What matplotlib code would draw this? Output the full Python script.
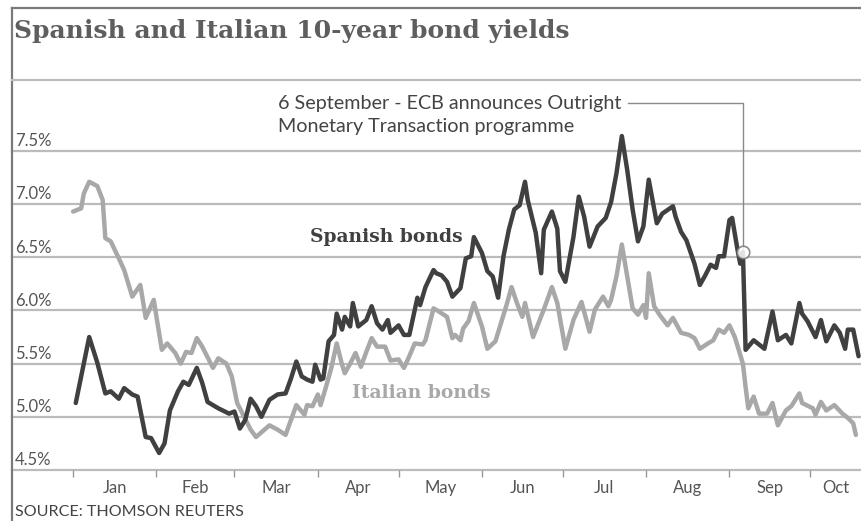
# Spanish and Italian 10-year bond yields through 2012, with the
# ECB Outright Monetary Transaction announcement marked on 6 September

import matplotlib
matplotlib.use("Agg")
import matplotlib.pyplot as plt
import matplotlib.transforms as mtransforms
from matplotlib.lines import Line2D


# data
# ---

# day of 2012 (0 = 1 January) and yield in percent
spain_day = [1, 6, 9, 12, 14, 17, 19, 22, 24, 27, 29, 32, 34, 36, 39, 41, 43,
             46, 48, 50, 54, 58, 60, 62, 64, 66, 68, 70, 73, 76, 79, 81, 83,
             85, 87, 89, 90, 92, 93, 95, 97, 98, 100, 101, 103, 104, 106, 109,
             111, 113, 115, 117, 118, 121, 123, 125, 128, 129, 131, 134, 135,
             137, 139, 141, 144, 146, 148, 149, 152, 154, 156, 158, 160, 162,
             164, 166, 168, 169, 172, 174, 175, 178, 180, 181, 183, 186, 188,
             190, 192, 195, 198, 200, 202, 204, 206, 208, 210, 212, 214, 217,
             219, 223, 224, 226, 228, 231, 233, 235, 237, 239, 240, 242, 244,
             245, 247, 248, 249, 250, 253, 257, 260, 262, 265, 267, 270, 271,
             273, 276, 278, 280, 283, 285, 287, 288, 290, 292]
spain_yield = [5.13, 5.75, 5.51, 5.22, 5.24, 5.17, 5.27, 5.21, 5.19, 4.81,
               4.80, 4.66, 4.75, 5.06, 5.24, 5.33, 5.30, 5.46, 5.32, 5.14,
               5.08, 5.03, 5.05, 4.89, 4.97, 5.17, 5.10, 5.00, 5.16, 5.21,
               5.22, 5.36, 5.52, 5.38, 5.35, 5.33, 5.49, 5.35, 5.36, 5.71,
               5.77, 5.97, 5.82, 5.94, 5.85, 6.07, 5.85, 5.91, 6.04, 5.88,
               5.82, 5.91, 5.79, 5.86, 5.77, 5.77, 6.12, 6.05, 6.22, 6.38,
               6.35, 6.33, 6.27, 6.13, 6.21, 6.49, 6.51, 6.69, 6.54, 6.37,
               6.32, 6.12, 6.51, 6.76, 6.95, 6.99, 7.21, 7.04, 6.73, 6.35,
               6.76, 6.93, 6.77, 6.37, 6.27, 6.69, 7.07, 6.88, 6.60, 6.79,
               6.87, 7.02, 7.29, 7.64, 7.32, 6.95, 6.65, 6.79, 7.23, 6.82,
               6.91, 6.98, 6.88, 6.74, 6.66, 6.44, 6.24, 6.33, 6.43, 6.40,
               6.51, 6.51, 6.85, 6.87, 6.57, 6.44, 6.55, 5.63, 5.72, 5.64,
               5.99, 5.72, 5.77, 5.69, 6.07, 5.97, 5.90, 5.75, 5.91, 5.71,
               5.86, 5.79, 5.64, 5.82, 5.82, 5.57]

italy_day = [0, 3, 4, 6, 9, 11, 12, 14, 17, 19, 22, 25, 27, 30, 31, 33, 35,
             38, 40, 42, 44, 46, 48, 52, 54, 57, 59, 61, 63, 66, 68, 73, 76,
             79, 81, 83, 86, 87, 89, 91, 92, 94, 96, 98, 100, 101, 103, 105,
             107, 109, 111, 113, 116, 118, 121, 123, 125, 127, 130, 131, 134,
             136, 139, 141, 142, 144, 145, 147, 149, 152, 154, 157, 161, 163,
             165, 167, 168, 171, 175, 178, 180, 183, 186, 189, 192, 194, 197,
             199, 200, 202, 204, 206, 208, 210, 212, 213, 214, 216, 218, 221,
             223, 226, 229, 231, 233, 236, 238, 240, 242, 244, 246, 249, 250,
             251, 253, 255, 258, 260, 262, 265, 267, 270, 271, 275, 276, 278,
             280, 283, 286, 288, 290, 291]
italy_yield = [6.93, 6.96, 7.10, 7.21, 7.17, 7.04, 6.68, 6.65, 6.49, 6.38,
               6.13, 6.24, 5.93, 6.10, 5.94, 5.63, 5.69, 5.60, 5.50, 5.61,
               5.60, 5.74, 5.66, 5.46, 5.55, 5.50, 5.38, 5.13, 5.03, 4.88,
               4.81, 4.92, 4.88, 4.83, 4.97, 5.11, 5.02, 5.11, 5.10, 5.21,
               5.11, 5.28, 5.46, 5.69, 5.49, 5.41, 5.50, 5.60, 5.47, 5.61,
               5.74, 5.66, 5.66, 5.53, 5.54, 5.46, 5.57, 5.69, 5.68, 5.72,
               6.02, 5.99, 5.94, 5.74, 5.77, 5.72, 5.83, 5.90, 6.07, 5.85,
               5.64, 5.71, 6.04, 6.22, 6.07, 5.94, 6.07, 5.75, 6.01, 6.22,
               6.07, 5.64, 5.91, 6.08, 5.80, 6.01, 6.13, 6.04, 6.10, 6.32,
               6.62, 6.32, 6.02, 5.96, 6.05, 5.93, 6.35, 6.04, 5.96, 5.86,
               5.93, 5.79, 5.77, 5.74, 5.64, 5.69, 5.72, 5.82, 5.79, 5.86,
               5.75, 5.50, 5.28, 5.08, 5.19, 5.03, 5.03, 5.13, 4.92, 5.06,
               5.10, 5.22, 5.13, 5.08, 5.02, 5.14, 5.06, 5.11, 5.03, 4.99,
               4.94, 4.83]

# first day of each month, and the names shown under the axis
month_starts = [0, 31, 60, 91, 121, 152, 182, 213, 244, 274]
month_names = ["Jan", "Feb", "Mar", "Apr", "May", "Jun", "Jul", "Aug",
               "Sep", "Oct"]

y_levels = [4.5, 5.0, 5.5, 6.0, 6.5, 7.0, 7.5]

# 6 September, the OMT announcement
event_day = 249
event_lines = ["6 September - ECB announces Outright",
               "Monetary Transaction programme"]


# styling
# ---

W, H = 861, 521
dark = "#404040"
light = "#a8a8a8"
grid_col = "#bbbbbb"
frame_col = "#7a7a7a"
text_col = "#555555"
sans = ["Lato", "DejaVu Sans"]
serif = ["DejaVu Serif"]

x_min, x_max = -22.7, 292.9
y_min, y_max = 4.5, 8.12


# plot
# ---

fig = plt.figure(figsize=(W / 100, H / 100), dpi=100)
fig.patch.set_facecolor("white")

# chart area spans from the left rule to the right edge
ax = fig.add_axes([12 / W, (H - 470) / H, (W - 12) / W, 385 / H])
ax.set_xlim(x_min, x_max)
ax.set_ylim(y_min, y_max)
for s in ax.spines.values():
    s.set_visible(False)

# horizontal gridlines, the 4.5% one doubles as the x axis
for v in y_levels:
    ax.axhline(v, color=grid_col, lw=1.6, zorder=1, clip_on=False)

# y labels sit just above their gridlines on the left
trans = mtransforms.blended_transform_factory(ax.transAxes, ax.transData)
for v in y_levels:
    ax.text(3 / (W - 12), v + 0.045, f"{v:.1f}%", transform=trans,
            ha="left", va="baseline", fontsize=12, color=text_col,
            family=sans)
ax.set_yticks([])

# month boundaries as ticks, names centred inside each month
label_pos = [(a + b) / 2 for a, b in zip(month_starts, month_starts[1:] + [x_max])]
ax.set_xticks(month_starts)
ax.set_xticklabels([])
ax.set_xticks(label_pos, minor=True)
ax.set_xticklabels(month_names, minor=True, fontsize=12, color=text_col,
                   family=sans)
ax.tick_params(axis="x", which="major", length=5, width=1, color="#999999",
               direction="out")
ax.tick_params(axis="x", which="minor", length=0, pad=7)

# the two yield series
ax.plot(italy_day, italy_yield, color=light, lw=3.2, zorder=3,
        solid_joinstyle="round", solid_capstyle="round")
ax.plot(spain_day, spain_yield, color=dark, lw=3.2, zorder=4,
        solid_joinstyle="round", solid_capstyle="round")

# event marker with its leader line up to the annotation
event_val = spain_yield[spain_day.index(event_day)]
leader_y = 4.5 + (470 - 103) / 106.3
leader_x0 = (628 - 73) / 2.69
ax.plot([leader_x0, event_day, event_day], [leader_y, leader_y, event_val],
        color="#8a8a8a", lw=1, zorder=2, clip_on=False)
ax.plot(event_day, event_val, "o", ms=9, mfc="white", mec="#777777",
        mew=1.2, alpha=0.85, zorder=5)

# series labels
fig.text(310 / W, 1 - 242 / H, "Spanish bonds", fontsize=13.5,
         fontweight="bold", color=dark, family=serif, va="baseline")
fig.text(352 / W, 1 - 398 / H, "Italian bonds", fontsize=13.5,
         fontweight="bold", color=light, family=serif, va="baseline")

# annotation text, one line at a time
for i, line in enumerate(event_lines):
    fig.text(278 / W, 1 - (109 + 23 * i) / H, line, fontsize=14.2,
             color="#444444", family=sans, va="baseline")

# title, rules and source
fig.text(14 / W, 1 - 38 / H, "Spanish and Italian 10-year bond yields",
         fontsize=18, fontweight="bold", color="#5e5e5e", family=serif,
         va="baseline")
fig.add_artist(Line2D([12 / W, 1], [1 - 8 / H, 1 - 8 / H], color=frame_col,
                      lw=1.6))
fig.add_artist(Line2D([12 / W, 12 / W], [0, 1 - 8 / H], color=frame_col,
                      lw=1.6))
fig.add_artist(Line2D([12 / W, 1], [1 - 80 / H, 1 - 80 / H], color=grid_col,
                      lw=1.6))
fig.text(15 / W, 1 - 516 / H, "SOURCE: THOMSON REUTERS", fontsize=11.6,
         color="#444444", family=sans, va="baseline")

plt.savefig("out.png", dpi=100)
plt.close()
